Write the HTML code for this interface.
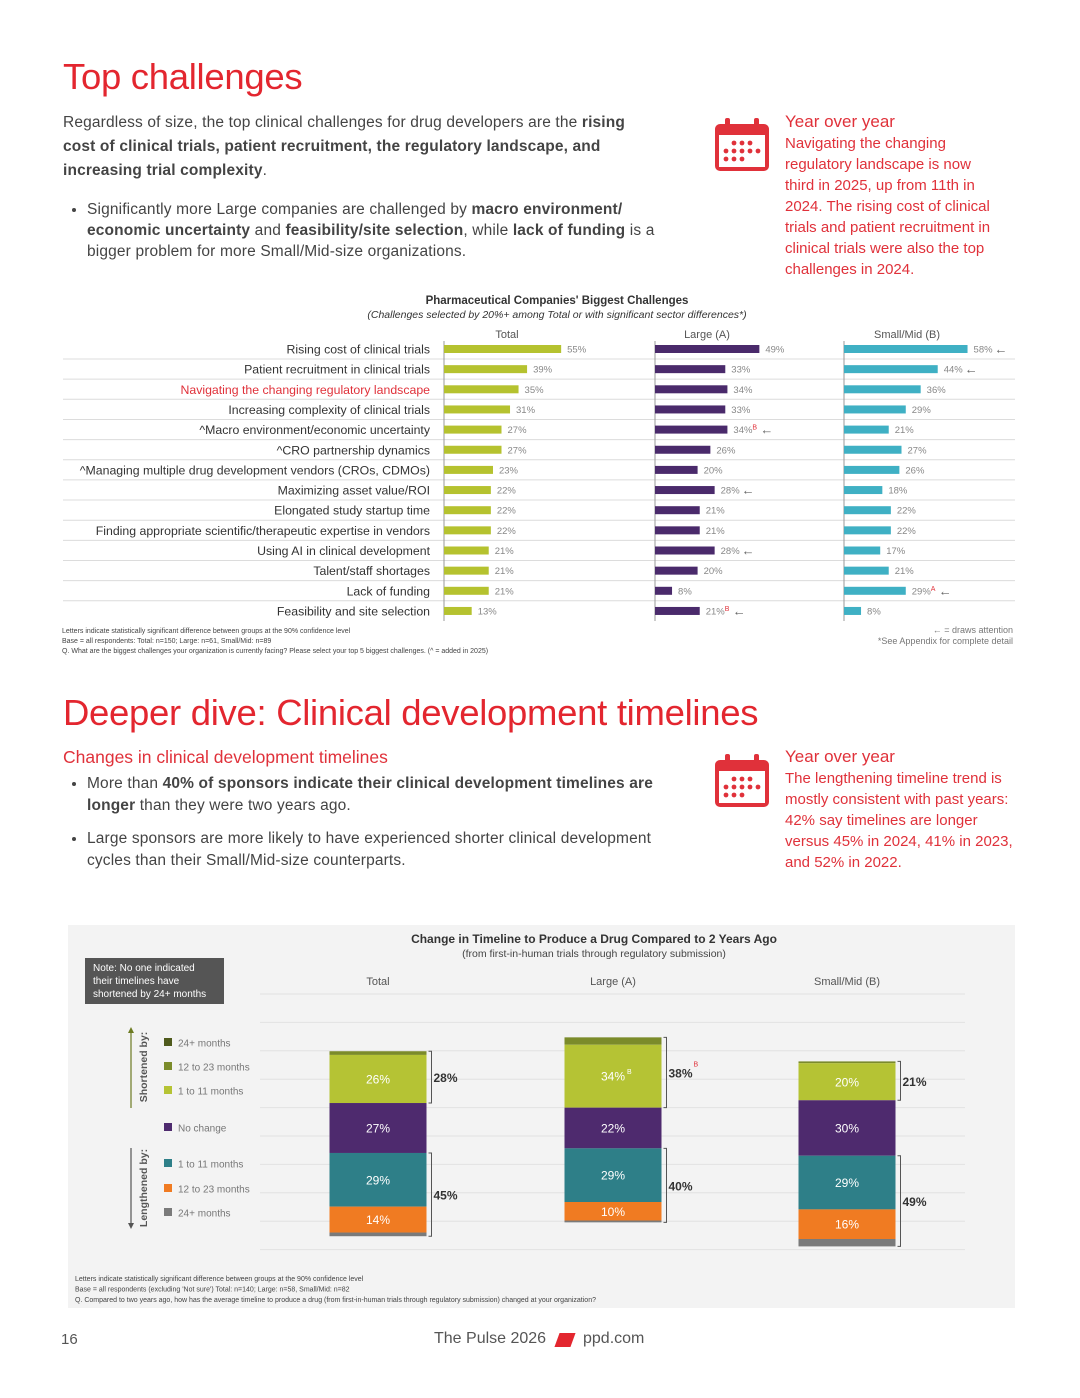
<!DOCTYPE html>
<html><head><meta charset="utf-8">
<style>
body{margin:0;background:#fff;font-family:"Liberation Sans",sans-serif;}
#page{position:relative;width:1080px;height:1398px;overflow:hidden;background:#fff;color:#333;}
.abs{position:absolute;}
h1{position:absolute;margin:0;font-weight:normal;color:#e3262f;letter-spacing:-0.3px;}
.body{font-size:15.5px;line-height:24px;color:#444;letter-spacing:0.15px;}
.red{color:#e0313a;}
.yoy{font-size:15px;line-height:21px;color:#e0313a;}
ul{margin:0;padding-left:24px;}
li{margin:0;}
</style></head><body>
<div id="page">
<h1 style="left:63px;top:56px;font-size:36.5px;">Top challenges</h1>
<div class="abs body" style="left:63px;top:111px;width:585px;">Regardless of size, the top clinical challenges for drug developers are the <b>rising cost of clinical trials, patient recruitment, the regulatory landscape, and increasing trial complexity</b>.</div>
<div class="abs body" style="left:63px;top:199px;width:625px;line-height:21px;"><ul><li>Significantly more Large companies are challenged by <b>macro environment/ economic uncertainty</b> and <b>feasibility/site selection</b>, while <b>lack of funding</b> is a bigger problem for more Small/Mid-size organizations.</li></ul></div>

<svg class="abs" style="left:713px;top:117px" width="58" height="56" viewBox="0 0 58 56"><rect x="2" y="7" width="54" height="47" rx="5" fill="#e0313a"/><rect x="6" y="18" width="46" height="32" fill="#fff"/><rect x="12" y="1" width="5" height="12" rx="2" fill="#e0313a"/><rect x="41" y="1" width="5" height="12" rx="2" fill="#e0313a"/><g fill="#e0313a"><circle cx="21" cy="26" r="2.4"/><circle cx="29" cy="26" r="2.4"/><circle cx="37" cy="26" r="2.4"/><circle cx="13" cy="34" r="2.4"/><circle cx="21" cy="34" r="2.4"/><circle cx="29" cy="34" r="2.4"/><circle cx="37" cy="34" r="2.4"/><circle cx="45" cy="34" r="2.4"/><circle cx="13" cy="42" r="2.4"/><circle cx="21" cy="42" r="2.4"/><circle cx="29" cy="42" r="2.4"/></g></svg>
<div class="abs yoy" style="left:785px;top:111px;width:215px;"><span style="font-size:17px">Year over year</span><br><span style="font-weight:500">Navigating the changing regulatory landscape is now third in 2025, up from 11th in 2024.</span> The rising cost of clinical trials and patient recruitment in clinical trials were also the top challenges in 2024.</div>

<svg id="chart1" class="abs" style="left:0;top:285px" width="1080" height="380"></svg>

<h1 style="left:63px;top:692px;font-size:36.5px;">Deeper dive: Clinical development timelines</h1>
<div class="abs red" style="left:63px;top:747px;font-size:17.5px;">Changes in clinical development timelines</div>
<div class="abs body" style="left:63px;top:773px;width:630px;line-height:22px;"><ul><li>More than <b>40% of sponsors indicate their clinical development timelines are longer</b> than they were two years ago.</li><li style="margin-top:11px;padding-right:20px">Large sponsors are more likely to have experienced shorter clinical development cycles than their Small/Mid-size counterparts.</li></ul></div>
<svg class="abs" style="left:713px;top:753px" width="58" height="56" viewBox="0 0 58 56"><rect x="2" y="7" width="54" height="47" rx="5" fill="#e0313a"/><rect x="6" y="18" width="46" height="32" fill="#fff"/><rect x="12" y="1" width="5" height="12" rx="2" fill="#e0313a"/><rect x="41" y="1" width="5" height="12" rx="2" fill="#e0313a"/><g fill="#e0313a"><circle cx="21" cy="26" r="2.4"/><circle cx="29" cy="26" r="2.4"/><circle cx="37" cy="26" r="2.4"/><circle cx="13" cy="34" r="2.4"/><circle cx="21" cy="34" r="2.4"/><circle cx="29" cy="34" r="2.4"/><circle cx="37" cy="34" r="2.4"/><circle cx="45" cy="34" r="2.4"/><circle cx="13" cy="42" r="2.4"/><circle cx="21" cy="42" r="2.4"/><circle cx="29" cy="42" r="2.4"/></g></svg>
<div class="abs yoy" style="left:785px;top:746px;width:235px;"><span style="font-size:17px">Year over year</span><br>The lengthening timeline trend is mostly consistent with past years: 42% say timelines are longer versus 45% in 2024, 41% in 2023, and 52% in 2022.</div>

<svg id="chart2" class="abs" style="left:0;top:0" width="1080" height="1320"></svg>

<div class="abs" style="left:61px;top:1331px;font-size:15px;color:#555;">16</div>
<div class="abs" style="left:434px;top:1330px;font-size:16px;color:#555;">The Pulse 2026</div>
<div class="abs" style="left:557px;top:1333px;width:16px;height:14px;background:#e3262f;transform:skewX(-20deg);"></div>
<div class="abs" style="left:583px;top:1330px;font-size:16px;color:#555;">ppd.com</div>
</div>
<script>
const NS='http://www.w3.org/2000/svg';
function mk(p,tag,a,txt){const e=document.createElementNS(NS,tag);for(const k in a)e.setAttribute(k,a[k]);if(txt!==undefined)e.textContent=txt;p.appendChild(e);return e;}

// ---- chart 1 data ----
const challenges=["Rising cost of clinical trials","Patient recruitment in clinical trials","Navigating the changing regulatory landscape","Increasing complexity of clinical trials","^Macro environment/economic uncertainty","^CRO partnership dynamics","^Managing multiple drug development vendors (CROs, CDMOs)","Maximizing asset value/ROI","Elongated study startup time","Finding appropriate scientific/therapeutic expertise in vendors","Using AI in clinical development","Talent/staff shortages","Lack of funding","Feasibility and site selection"];
const totalVals=[55,39,35,31,27,27,23,22,22,22,21,21,21,13];
const largeVals=[49,33,34,33,34,26,20,28,21,21,28,20,8,21];
const smallVals=[58,44,36,29,21,27,26,18,22,22,17,21,29,8];
const largeSig=["","","","","B","","","","","","","","","B"];
const smallSig=["","","","","","","","","","","","","A",""];
const largeArrow=[0,0,0,0,1,0,0,1,0,0,1,0,0,1];
const smallArrow=[1,1,0,0,0,0,0,0,0,0,0,0,1,0];
const groupNames=["Total","Large (A)","Small/Mid (B)"];

(function(){
const s=document.getElementById('chart1');
const rowY=i=>64+i*20.15;
const xs=v=>v*2.13;
const cols=[{x0:444,vals:totalVals,c:"#b5c22f",sig:null,arr:null},{x0:655,vals:largeVals,c:"#4a2a6b",sig:largeSig,arr:largeArrow},{x0:844,vals:smallVals,c:"#3fb0c4",sig:smallSig,arr:smallArrow}];
let t=mk(s,'text',{x:557,y:19,'text-anchor':'middle','font-size':11.5,'font-weight':'bold',fill:'#333'},"Pharmaceutical Companies' Biggest Challenges");

t=mk(s,'text',{x:557,y:33,'text-anchor':'middle','font-size':10.5,'font-style':'italic',fill:'#333'},"(Challenges selected by 20%+ among Total or with significant sector differences*)");

[507,707,907].forEach((x,i)=>{const h=mk(s,'text',{x:x,y:53,'text-anchor':'middle','font-size':11,fill:'#555'},groupNames[i]);});
challenges.forEach((c,i)=>{
  const y=rowY(i);
  if(i<challenges.length-1){const l=mk(s,'line',{x1:63,x2:1015,y1:y+10,y2:y+10,stroke:'#dcdcdc','stroke-width':1});}
  const lb=mk(s,'text',{x:430,y:y+4.5,'text-anchor':'end','font-size':12.3,fill:i==2?'#e0313a':'#333'},c);
  
});
cols.forEach((col,ci)=>{
  const ax=mk(s,'line',{x1:col.x0,x2:col.x0,y1:56,y2:rowY(13)+10,stroke:'#999','stroke-width':1});
  
  col.vals.forEach((v,i)=>{
    const y=rowY(i);
    const b=mk(s,'rect',{x:col.x0,y:y-4,width:xs(v),height:8,fill:col.c});
    
    const lx=col.x0+xs(v)+6;
    const lt=mk(s,'text',{x:lx,y:y+3.5,'font-size':9.5,fill:'#888'},v+'%');
    
    let ex=lx+19;
    if(col.sig&&col.sig[i]){mk(s,'text',{x:ex,y:y,'font-size':7,fill:'#e0313a'},col.sig[i]);ex+=6;}
    if(col.arr&&col.arr[i]){const a=mk(s,'text',{x:ex+2,y:y+4.5,'font-size':13,'font-weight':'bold',fill:'#666'},'←');}
  });
});
const notes=["Letters indicate statistically significant difference between groups at the 90% confidence level","Base = all respondents: Total: n=150; Large: n=61, Small/Mid: n=89","Q. What are the biggest challenges your organization is currently facing? Please select your top 5 biggest challenges. (^ = added in 2025)"];
notes.forEach((n,i)=>{const f=mk(s,'text',{x:62,y:348+i*10,'font-size':7,fill:'#444'},n);});
let r=mk(s,'text',{x:1013,y:348,'text-anchor':'end','font-size':9,fill:'#777'},"← = draws attention");
r=mk(s,'text',{x:1013,y:359,'text-anchor':'end','font-size':9,fill:'#777'},"*See Appendix for complete detail");
})();

// ---- chart 2 data ----
const timelineGroups=["Total","Large (A)","Small/Mid (B)"];
const shortened24=[0,0,0];
const shortened12=[2,4,1];
const shortened1=[26,34,20];
const noChange=[27,22,30];
const lengthened1=[29,29,29];
const lengthened12=[14,10,16];
const lengthened24=[2,1,4];
const shortenedTotals=["28%","38%","21%"];
const lengthenedTotals=["45%","40%","49%"];
const shortenedSig=["","B",""];
const s1Sig=["","B",""];
const legendLabels=["24+ months","12 to 23 months","1 to 11 months","No change","1 to 11 months","12 to 23 months","24+ months"];
const segColors=["#4f5a1c","#7b8b2a","#b5c334","#4e2a6e","#2e7f88","#f07b22","#7a7a7a"];

(function(){
const s=document.getElementById('chart2');
const bg=mk(s,'rect',{x:68,y:925,width:947,height:383,fill:'#f3f3f3'});
for(let y=994;y<=1250;y+=28.4){const g=mk(s,'line',{x1:260,x2:965,y1:y,y2:y,stroke:'#e2e2e2','stroke-width':1});}
let t=mk(s,'text',{x:594,y:943,'text-anchor':'middle','font-size':12,'font-weight':'bold',fill:'#333'},"Change in Timeline to Produce a Drug Compared to 2 Years Ago");
t=mk(s,'text',{x:594,y:957,'text-anchor':'middle','font-size':10.5,fill:'#444'},"(from first-in-human trials through regulatory submission)");
const nb=mk(s,'rect',{x:85,y:958,width:139,height:46,fill:'#555'});
["Note: No one indicated","their timelines have","shortened by 24+ months"].forEach((l,i)=>{const n=mk(s,'text',{x:93,y:971+i*13,'font-size':10,fill:'#fff'},l);});
const cx=[378,613,847];
cx.forEach((x,i)=>{const h=mk(s,'text',{x:x,y:985,'text-anchor':'middle','font-size':11,fill:'#555'},timelineGroups[i]);});
const ly=[1043,1067,1091,1128,1164,1189,1213];
legendLabels.forEach((l,i)=>{const q=mk(s,'rect',{x:164,y:ly[i]-5,width:8,height:8,fill:segColors[i]});
 const lt=mk(s,'text',{x:178,y:ly[i]+3.5,'font-size':10,fill:'#777'},l);});
let a=mk(s,'line',{x1:131,x2:131,y1:1030,y2:1108,stroke:'#6d7b22','stroke-width':1.2});
mk(s,'path',{d:'M128,1033 L131,1027 L134,1033 Z',fill:'#6d7b22'});
a=mk(s,'line',{x1:131,x2:131,y1:1148,y2:1226,stroke:'#555','stroke-width':1.2});
mk(s,'path',{d:'M128,1223 L131,1229 L134,1223 Z',fill:'#555'});
t=mk(s,'text',{x:0,y:0,transform:'translate(147,1067) rotate(-90)','text-anchor':'middle','font-size':10.5,'font-weight':'bold',fill:'#555'},"Shortened by:");
t=mk(s,'text',{x:0,y:0,transform:'translate(147,1188) rotate(-90)','text-anchor':'middle','font-size':10.5,'font-weight':'bold',fill:'#555'},"Lengthened by:");
const k=1.85, mid=1128, bw=97;
const yv=v=>v*k;
cx.forEach((x,i)=>{
  const x0=x-bw/2;
  const segs=[shortened24[i],shortened12[i],shortened1[i],noChange[i],lengthened1[i],lengthened12[i],lengthened24[i]];
  let top=mid-yv(noChange[i])/2-yv(shortened1[i])-yv(shortened12[i])-yv(shortened24[i]);
  let y=top; const bounds=[];
  segs.forEach((v,j)=>{
    bounds.push(y);
    if(v>0){const r=mk(s,'rect',{x:x0,y:y,width:bw,height:yv(v),fill:segColors[j]});
      if(v>=5){const lt=mk(s,'text',{x:x,y:y+yv(v)/2+4.5,'text-anchor':'middle','font-size':12,fill:'#fff'},v+'%');
        if(j==2&&s1Sig[i]){mk(s,'text',{x:x+14,y:y+yv(v)/2-2,'font-size':7,fill:'#fff'},s1Sig[i]);}}}
    y+=yv(v);
  });
  bounds.push(y);
  const bx=x0+bw+2;
  const sT=bounds[0], sB=bounds[3], lT=bounds[4], lB=bounds[7];
  let br=mk(s,'path',{d:`M${bx},${sT} h3 V${sB} h-3`,fill:'none',stroke:'#555','stroke-width':1});
  let bt=mk(s,'text',{x:bx+5,y:(sT+sB)/2+5,'font-size':12,'font-weight':'bold',fill:'#333'},shortenedTotals[i]);
  if(shortenedSig[i])mk(s,'text',{x:bx+30,y:(sT+sB)/2-6,'font-size':7,fill:'#e0313a'},shortenedSig[i]);
  br=mk(s,'path',{d:`M${bx},${lT} h3 V${lB} h-3`,fill:'none',stroke:'#555','stroke-width':1});
  bt=mk(s,'text',{x:bx+5,y:(lT+lB)/2+5,'font-size':12,'font-weight':'bold',fill:'#333'},lengthenedTotals[i]);
});
const notes=["Letters indicate statistically significant difference between groups at the 90% confidence level","Base = all respondents (excluding 'Not sure') Total: n=140; Large: n=58, Small/Mid: n=82","Q. Compared to two years ago, how has the average timeline to produce a drug (from first-in-human trials through regulatory submission) changed at your organization?"];
notes.forEach((n,i)=>{const f=mk(s,'text',{x:75,y:1281+i*10.5,'font-size':7,fill:'#444'},n);});
})();
</script>
</body></html>
